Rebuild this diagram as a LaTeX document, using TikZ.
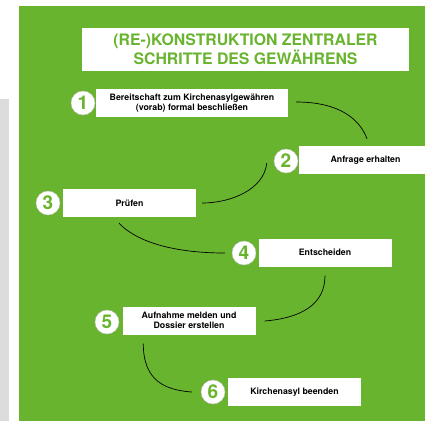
\documentclass[tikz,border=0pt]{standalone}
\usepackage{fontspec}
\setmainfont{TeX Gyre Heros}
\usetikzlibrary{calc}
\definecolor{kgreen}{HTML}{69B42E}
\definecolor{kgray}{HTML}{DCDCDC}
\begin{document}
\begin{tikzpicture}[x=1pt,y=-1pt,
  stepbox/.style={draw=none,fill=white,minimum width=133pt,minimum height=28pt,inner sep=0pt,align=center,font=\fontsize{8.8}{10.5}\selectfont\bfseries,text=black},
  numcirc/.style={circle,fill=white,draw=black!25,line width=0.4pt,minimum size=24pt,inner sep=0pt,font=\fontsize{19}{19}\selectfont\bfseries,text=kgreen},
  conn/.style={draw=black,line width=0.7pt}]
\useasboundingbox (0,0) rectangle (425,421);
\fill[white] (0,0) rectangle (425,421);
\fill[kgray] (0,99) rectangle (9,421);
\fill[kgreen] (19,6) rectangle (425,421);
% title
\node[fill=white,minimum width=327pt,minimum height=43pt,inner sep=0pt,align=center,text=kgreen,font=\fontsize{15.8}{17.5}\selectfont\bfseries] (title) at (245.5,49.5) {(RE-)KONSTRUKTION ZENTRALER\\SCHRITTE DES GEWÄHRENS};
% boxes
\node[stepbox,minimum width=192pt] (b1) at (192,103) {Bereitschaft zum Kirchenasylgewähren\\(vorab) formal beschließen};
\node[stepbox] (b2) at (365.5,160) {Anfrage erhalten};
\node[stepbox] (b3) at (129.5,203) {Prüfen};
\node[stepbox] (b4) at (325,252.5) {Entscheiden};
\node[stepbox] (b5) at (189,320.5) {Aufnahme melden und\\Dossier erstellen};
\node[stepbox] (b6) at (294.5,392) {Kirchenasyl beenden};
% circles
\node[numcirc] (c1) at (83,103) {1};
\node[numcirc] (c2) at (286,161) {2};
\node[numcirc] (c3) at (48,203) {3};
\node[numcirc] (c4) at (244,253) {4};
\node[numcirc] (c5) at (107,322) {5};
\node[numcirc] (c6) at (213,392) {6};
% connectors
\coordinate (s1) at ($(b1.east)+(8,-1)$);
\coordinate (e1) at ($(b2.north)+(1.5,-7)$);
\coordinate (s2) at ($(c2.west)+(-7,2)$);
\coordinate (e2) at ($(b3.east)+(6,0)$);
\coordinate (s3) at ($(b3.south)+(-10.5,6)$);
\coordinate (e3) at ($(c4.west)+(-7,0)$);
\coordinate (s4) at ($(b4.south)+(0,9)$);
\coordinate (e4) at ($(b5.east)+(9,0.5)$);
\coordinate (s5) at ($(b5.south west)+(21,9)$);
\coordinate (e5) at ($(c6.west)+(-9,0)$);
\draw[conn] (s1) .. controls ($(s1)+(44,0)$) and ($(e1)+(-7,-19)$) .. (e1);
\draw[conn] (s2) .. controls ($(s2)+(-3,27)$) and ($(e2)+(28,0)$) .. (e2);
\draw[conn] (s3) .. controls ($(s3)+(16,17)$) and ($(e3)+(-55,0)$) .. (e3);
\draw[conn] (s4) .. controls ($(s4)+(0,29)$) and ($(e4)+(36,-3)$) .. (e4);
\draw[conn] (s5) .. controls ($(s5)+(0,37)$) and ($(e5)+(-27,-2)$) .. (e5);
\end{tikzpicture}
\end{document}
